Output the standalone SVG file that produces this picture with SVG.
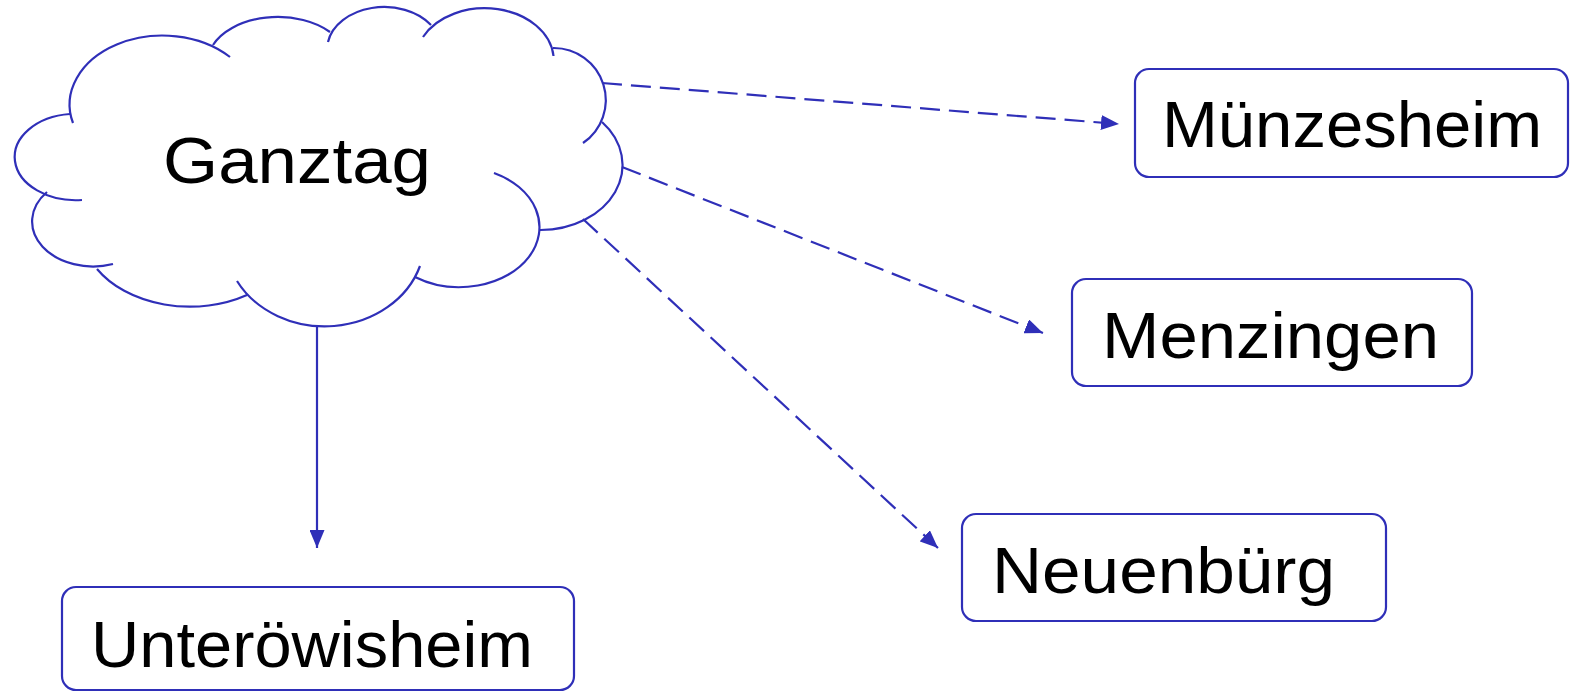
<svg xmlns="http://www.w3.org/2000/svg" width="1575" height="693" viewBox="0 0 1575 693">
  <style>
    .ln { stroke: #2f2fb8; stroke-width: 2.2; fill: none; }
    .dash { stroke-dasharray: 20 9; }
    .box { stroke: #2f2fb8; stroke-width: 2.2; fill: #ffffff; }
    .lbl { font-family: "Liberation Sans", Arial, sans-serif; font-size: 64px; fill: #000000; }
  </style>
  <defs>
    <marker id="arrow" markerUnits="userSpaceOnUse" markerWidth="18" markerHeight="15" viewBox="0 0 18 15" refX="18" refY="7.5" orient="auto">
      <path d="M0,0 L18,7.5 L0,15 z" fill="#2f2fb8"/>
    </marker>
  </defs>
  <rect width="1575" height="693" fill="#ffffff"/>

  <g id="connectors">
    <line class="ln dash" x1="602" y1="83" x2="1119" y2="124" marker-end="url(#arrow)"/>
    <line class="ln dash" x1="622" y1="167" x2="1043" y2="333" marker-end="url(#arrow)"/>
    <line class="ln dash" x1="583" y1="219" x2="938" y2="548" marker-end="url(#arrow)"/>
    <line class="ln" x1="317" y1="326" x2="317" y2="548" marker-end="url(#arrow)"/>
  </g>

  <g id="ganztag">
    <path class="ln" d="M73,123 A93,69 0 0 1 230,57"/>
    <path class="ln" d="M213,45 A70,45 0 0 1 330,32"/>
    <path class="ln" d="M328,42 A57,42 0 0 1 431,25"/>
    <path class="ln" d="M423,37 A69,52 0 0 1 553.5,56"/>
    <path class="ln" d="M553,48 A52,52 0 0 1 583,143"/>
    <path class="ln" d="M602,122 A82,65 0 0 1 540,230"/>
    <path class="ln" d="M494,173 A80,60 0 1 1 415,277"/>
    <path class="ln" d="M420,266 A100,87 0 0 1 237,281"/>
    <path class="ln" d="M247,295 A108,77 0 0 1 97,269"/>
    <path class="ln" d="M113,264 A61,45 0 0 1 47,192"/>
    <path class="ln" d="M82,200 A61,43 0 0 1 70,114"/>
    <text class="lbl" x="163" y="183" textLength="268" lengthAdjust="spacingAndGlyphs">Ganztag</text>
  </g>

  <g id="muenzesheim">
    <rect class="box" x="1135" y="69" width="433" height="108" rx="14"/>
    <text class="lbl" x="1162" y="147" textLength="380" lengthAdjust="spacingAndGlyphs">Münzesheim</text>
  </g>

  <g id="menzingen">
    <rect class="box" x="1072" y="279" width="400" height="107" rx="14"/>
    <text class="lbl" x="1102" y="358" textLength="337" lengthAdjust="spacingAndGlyphs">Menzingen</text>
  </g>

  <g id="neuenbuerg">
    <rect class="box" x="962" y="514" width="424" height="107" rx="14"/>
    <text class="lbl" x="992" y="593" textLength="343" lengthAdjust="spacingAndGlyphs">Neuenbürg</text>
  </g>

  <g id="unteroewisheim">
    <rect class="box" x="62" y="587" width="512" height="103" rx="14"/>
    <text class="lbl" x="91" y="667" textLength="442" lengthAdjust="spacingAndGlyphs">Unteröwisheim</text>
  </g>
</svg>
